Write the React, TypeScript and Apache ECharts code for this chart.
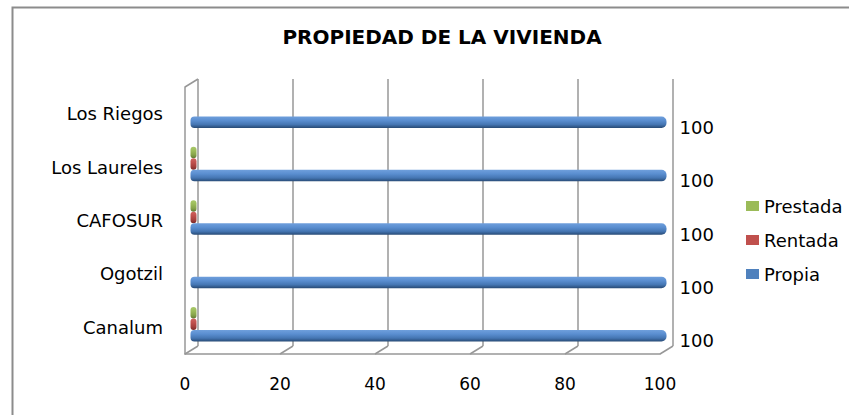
import React, { useEffect, useRef } from "react";
import * as echarts from "echarts";

const categories = ["Canalum", "Ogotzil", "CAFOSUR", "Los Laureles", "Los Riegos"];
const propia = [100, 100, 100, 100, 100];
const rentada = [0, null, 0, 0, null];
const prestada = [0, null, 0, 0, null];
const xTicks = [0, 20, 40, 60, 80, 100];
const legendNames = ["Prestada", "Rentada", "Propia"];

const FONT = "DejaVu Sans";
const GRAY = "#979797";
const BLUE = "#4f81bd";
const RED = "#c0504d";
const GREEN = "#9bbb59";

function cyl(top: string, mid: string, low: string, bottom: string) {
  return new echarts.graphic.LinearGradient(0, 0, 0, 1, [
    { offset: 0, color: top },
    { offset: 0.35, color: mid },
    { offset: 0.7, color: low },
    { offset: 1, color: bottom },
  ]);
}

export default function App() {
  const ref = useRef<HTMLDivElement>(null);
  useEffect(() => {
    if (!ref.current) return;
    const chart = echarts.init(ref.current, null, { renderer: "svg" });
    const depthX = 13;
    const depthY = 8;
    chart.setOption({
      animation: false,
      backgroundColor: "#ffffff",
      title: {
        text: "PROPIEDAD DE LA VIVIENDA",
        left: 442,
        textAlign: "center",
        top: 27,
        padding: 0,
        textStyle: { fontFamily: FONT, fontSize: 20, fontWeight: "bold", color: "#000" },
      },
      legend: {
        orient: "vertical",
        left: 741,
        top: 191,
        itemWidth: 13,
        itemHeight: 10,
        itemGap: 14,
        itemStyle: { borderWidth: 0 },
        icon: "rect",
        textStyle: { fontFamily: FONT, fontSize: 18, color: "#000", lineHeight: 20 },
        data: [
          { name: legendNames[0], itemStyle: { color: GREEN } },
          { name: legendNames[1], itemStyle: { color: RED } },
          { name: legendNames[2], itemStyle: { color: BLUE } },
        ],
      },
      graphic: [
        {
          type: "polyline",
          shape: { points: [[12.5, 415], [12.5, 7.5], [849, 7.5]] },
          style: { stroke: "#8c8c8c", lineWidth: 2, fill: "none" },
          silent: true,
        },
      ],
      grid: [
        // back wall
        { left: 198, right: 176, top: 79, bottom: 69 },
        // front plane
        { left: 185, right: 189, top: 87, bottom: 61 },
        // middle plane (bars)
        { left: 190.5, right: 182.5, top: 84, bottom: 64 },
      ],
      xAxis: [
        {
          gridIndex: 0, type: "value", min: 0, max: 100, interval: 20,
          axisLine: { show: false }, axisTick: { show: false }, axisLabel: { show: false },
          splitLine: { show: true, lineStyle: { color: GRAY, width: 1.5 } },
        },
        {
          gridIndex: 1, type: "value", min: 0, max: 100, interval: 20,
          axisLine: { show: true, lineStyle: { color: GRAY, width: 1.5 } },
          axisTick: { show: false },
          splitLine: { show: false },
          axisLabel: { fontFamily: FONT, fontSize: 17, color: "#000", margin: 21 },
        },
        {
          gridIndex: 2, type: "value", min: 0, max: 100, interval: 20, show: false,
          splitLine: { show: false },
        },
      ],
      yAxis: [
        { gridIndex: 0, type: "category", data: categories, show: false },
        {
          gridIndex: 1, type: "category", data: categories,
          axisLine: { show: true, lineStyle: { color: GRAY, width: 1.5 } },
          axisTick: { show: false },
          axisLabel: { fontFamily: FONT, fontSize: 18, color: "#000", margin: 22, padding: [3, 0, 0, 0] },
        },
        { gridIndex: 2, type: "category", data: categories, show: false },
      ],
      series: [
        {
          type: "custom",
          xAxisIndex: 1,
          yAxisIndex: 1,
          silent: true,
          clip: false,
          z: 1,
          encode: { x: 0 },
          data: xTicks.map((v) => [v]),
          renderItem: (params: any, api: any) => {
            const v = api.value(0);
            const x = api.coord([v, 0])[0];
            const cs = params.coordSys;
            const yb = cs.y + cs.height;
            const st = { stroke: GRAY, lineWidth: 1.5 };
            const children: any[] = [
              { type: "line", shape: { x1: x, y1: yb, x2: x + depthX, y2: yb - depthY }, style: st },
            ];
            if (v === xTicks[0]) {
              children.push({ type: "line", shape: { x1: x, y1: cs.y, x2: x + depthX, y2: cs.y - depthY }, style: st });
            }
            return { type: "group", children };
          },
        },
        {
          name: "Prestada",
          type: "bar",
          xAxisIndex: 2,
          yAxisIndex: 2,
          data: prestada,
          barWidth: 11.5,
          barGap: "0%",
          barMinHeight: 6,
          itemStyle: { color: cyl("#a9c96a", GREEN, "#86a34a", "#5f7733"), borderRadius: 3 },
        },
        {
          name: "Rentada",
          type: "bar",
          xAxisIndex: 2,
          yAxisIndex: 2,
          data: rentada,
          barWidth: 11.5,
          barGap: "0%",
          barMinHeight: 6,
          itemStyle: { color: cyl("#cf625f", RED, "#a6403d", "#7a2a28"), borderRadius: 3 },
        },
        {
          name: "Propia",
          type: "bar",
          xAxisIndex: 2,
          yAxisIndex: 2,
          data: propia,
          barWidth: 11.5,
          barGap: "0%",
          itemStyle: { color: cyl("#6f9fdc", "#5a8ed0", "#4576b3", "#274a75"), borderRadius: [4, 5, 5, 4] },
          label: {
            show: true,
            position: "right",
            distance: 13,
            offset: [0, 5],
            fontFamily: FONT,
            fontSize: 18,
            color: "#000",
          },
        },
      ],
    });
    return () => chart.dispose();
  }, []);
  return (
    <div
      ref={ref}
      style={{ position: "fixed", left: 0, top: 0, width: 849, height: 415 }}
    />
  );
}
